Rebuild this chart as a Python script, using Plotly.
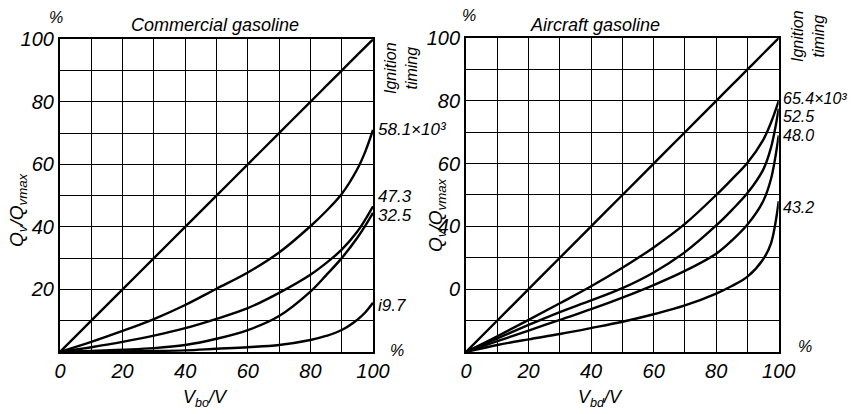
import plotly.graph_objects as go

# ---- data ----
x_pts = [0, 10, 20, 30, 40, 50, 60, 70, 80, 85, 90, 95, 97.5, 100]
diag = [0, 10, 20, 30, 40, 50, 60, 70, 80, 85, 90, 95, 97.5, 100]

# Commercial gasoline (left)
com_labels = ["58.1×10³", "47.3", "32.5", "i9.7"]
com_58 = [0, 3.2, 6.7, 10.5, 15, 20.2, 25.4, 31.8, 40.2, 45, 50.5, 58.5, 64, 71]
com_47 = [0, 1.5, 3.2, 5.2, 7.6, 10.6, 14, 18.9, 24.7, 28.4, 32.7, 38.5, 42.3, 46.6]
com_32 = [0, 0.3, 0.7, 1.2, 2.2, 4.2, 7, 11.5, 19.3, 24.5, 30, 36.5, 40.3, 44.5]
com_19 = [0, 0.1, 0.2, 0.3, 0.5, 1, 1.5, 2.2, 3.8, 5.1, 7, 10.3, 12.6, 15.7]

# Aircraft gasoline (right)
air_labels = ["65.4×10³", "52.5", "48.0", "43.2"]
air_65 = [0, 5, 10.2, 15.5, 20.9, 26.8, 33.3, 40.8, 50, 55, 60.3, 67.5, 73, 80]
air_52 = [0, 4.3, 8.6, 12.7, 16.4, 20.3, 25.3, 31.8, 40.3, 45.2, 50.6, 58, 65, 77.5]
air_48 = [0, 3.4, 6.8, 10.2, 13.6, 17.3, 21.3, 25.8, 31.3, 35.5, 40.6, 48, 55, 69]
air_43 = [0, 2.2, 4, 5.7, 7.6, 9.6, 12, 14.8, 18.6, 21, 24, 29.5, 34.5, 48]

grid_vals = [0, 10, 20, 30, 40, 50, 60, 70, 80, 90, 100]
x_ticktext = ["0", "", "20", "", "40", "", "60", "", "80", "", "100"]
left_y_ticktext = ["", "", "20", "", "40", "", "60", "", "80", "", "100"]
right_y_ticktext = ["", "", "0", "", "40", "", "60", "", "80", "", "100"]

FONT = "Liberation Sans Narrow, Liberation Sans, sans-serif"
fig = go.Figure()

line = dict(color="black", width=2.4, shape="spline", smoothing=1.0)
for ax, series in (("", [diag, com_58, com_47, com_32, com_19]),
                   ("2", [diag, air_65, air_52, air_48, air_43])):
    for ys in series:
        fig.add_trace(go.Scatter(x=x_pts, y=ys, mode="lines", line=line,
                                 xaxis="x" + ax, yaxis="y" + ax,
                                 showlegend=False, hoverinfo="skip"))

axis_common = dict(range=[0, 100], tickvals=grid_vals, showgrid=True,
                   gridcolor="black", gridwidth=1.3, showline=True,
                   linecolor="black", linewidth=2, mirror=True, ticks="",
                   zeroline=False, fixedrange=True, automargin=False,
                   tickfont=dict(family=FONT, size=20, color="black", style="italic"))

fig.update_layout(
    width=852, height=414,
    margin=dict(l=0, r=0, t=0, b=0, autoexpand=False),
    paper_bgcolor="white", plot_bgcolor="white",
    xaxis=dict(domain=[0.0704, 0.4378], ticktext=x_ticktext, anchor="y", **axis_common),
    yaxis=dict(domain=[0.15, 0.905], ticktext=left_y_ticktext, anchor="x", **axis_common),
    xaxis2=dict(domain=[0.547, 0.914], ticktext=x_ticktext, anchor="y2", **axis_common),
    yaxis2=dict(domain=[0.15, 0.908], ticktext=right_y_ticktext, anchor="x2", **axis_common),
)

ann = []
tf = dict(family=FONT, color="black", style="italic")

def add_text(text, x, y, size, angle=0, xanchor="center", yanchor="middle"):
    ann.append(dict(text=text, x=x, y=y, xref="paper", yref="paper", showarrow=False,
                    textangle=angle, xanchor=xanchor, yanchor=yanchor,
                    font=dict(size=size, **tf)))

def px(xp):
    return xp / 852

def py(yp):
    return 1 - yp / 414

# left panel texts
add_text("Commercial gasoline", px(215), py(25), 18)
add_text("%", px(56), py(18), 16)
add_text("Ignition<br>timing", px(401), py(68), 16, angle=-90)
add_text("Q<sub>v</sub>/Q<sub>vmax</sub>", px(18), py(210), 19, angle=-90)
add_text("V<sub>bo</sub>/V", px(205), py(398), 18)
add_text("%", px(397), py(350), 16)
left_label_y = [129, 196, 215, 305]
for t, yy in zip(com_labels, left_label_y):
    add_text(t, px(376), py(yy), 17, xanchor="left")

# right panel texts
add_text("Aircraft gasoline", px(595), py(25), 18)
add_text("%", px(469), py(16), 16)
add_text("Ignition<br>timing", px(808), py(36), 16, angle=-90)
add_text("Q<sub>v</sub>/Q<sub>vmax</sub>", px(437), py(215), 19, angle=-90)
add_text("V<sub>bd</sub>/V", px(600), py(398), 18)
add_text("%", px(805), py(346), 16)
right_label_y = [99, 116, 135, 207]
for t, yy in zip(air_labels, right_label_y):
    add_text(t, px(781), py(yy), 16, xanchor="left")

fig.update_layout(annotations=ann)
fig.write_html("out.html")
